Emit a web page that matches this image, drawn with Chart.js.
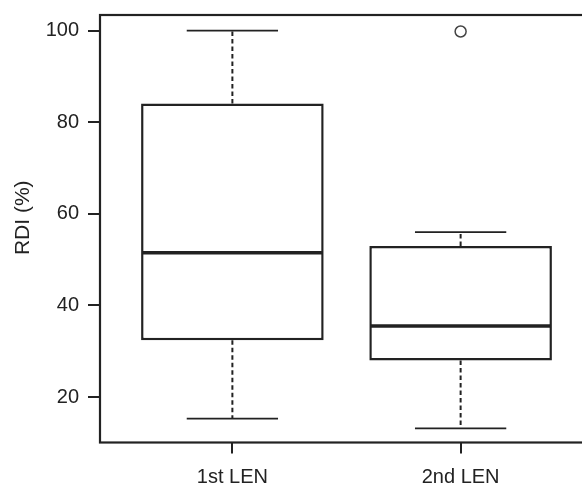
<!DOCTYPE html>
<html>
<head>
<meta charset="utf-8">
<script src="https://cdn.jsdelivr.net/npm/chart.js@4.4.1/dist/chart.umd.min.js"></script>
<style>
  html, body { margin: 0; padding: 0; background: #fff; overflow: hidden; width: 582px; height: 486px; }
  canvas { display: block; }
</style>
</head>
<body>
<canvas id="c" width="600" height="486" style="width:600px;height:486px"></canvas>
<script>
// ---- data ----
const categories   = ['1st LEN', '2nd LEN'];
const whiskerLow   = [15.3, 13.2];
const quartile1    = [32.4, 28.0];
const medians      = [51.5, 35.5];
const quartile3    = [84.1, 53.0];
const whiskerHigh  = [100.0, 56.0];
const outliers     = [[], [99.8]];
const yTicks       = [20, 40, 60, 80, 100];
const yTitle       = 'RDI (%)';

const INK = '#222222';
const FONT = 'Liberation Sans, Arial, Helvetica, sans-serif';

const boxData = categories.map((c, i) => ({ x: i + 1, y: [quartile1[i], quartile3[i]] }));
const outlierData = [];
outliers.forEach((arr, i) => arr.forEach(v => outlierData.push({ x: i + 1, y: v })));

const boxExtras = {
  id: 'boxExtras',
  beforeDatasetsDraw(chart) {
    const ctx = chart.ctx, xs = chart.scales.x, ys = chart.scales.y;
    const meta = chart.getDatasetMeta(0);
    ctx.save();
    ctx.strokeStyle = INK;
    categories.forEach((c, i) => {
      const el = meta.data[i];
      const cx = xs.getPixelForValue(i + 1);
      const capHalf = el.width * 0.25;
      ctx.lineWidth = 2;
      ctx.setLineDash([4.5, 3]);
      ctx.beginPath();
      ctx.moveTo(cx, ys.getPixelForValue(quartile3[i]));
      ctx.lineTo(cx, ys.getPixelForValue(whiskerHigh[i]));
      ctx.moveTo(cx, ys.getPixelForValue(quartile1[i]));
      ctx.lineTo(cx, ys.getPixelForValue(whiskerLow[i]));
      ctx.stroke();
      ctx.setLineDash([]);
      ctx.lineWidth = 1.8;
      ctx.beginPath();
      [whiskerHigh[i], whiskerLow[i]].forEach(v => {
        const py = ys.getPixelForValue(v);
        ctx.moveTo(cx - capHalf, py);
        ctx.lineTo(cx + capHalf, py);
      });
      ctx.stroke();
    });
    ctx.restore();
  },
  afterDatasetsDraw(chart) {
    const ctx = chart.ctx, ys = chart.scales.y;
    const meta = chart.getDatasetMeta(0);
    ctx.save();
    ctx.strokeStyle = INK;
    ctx.lineWidth = 3.5;
    categories.forEach((c, i) => {
      const el = meta.data[i];
      const py = ys.getPixelForValue(medians[i]);
      ctx.beginPath();
      ctx.moveTo(el.x - el.width / 2 + 1, py);
      ctx.lineTo(el.x + el.width / 2 - 1, py);
      ctx.stroke();
    });
    const a = chart.chartArea;
    ctx.lineWidth = 2.2;
    ctx.strokeRect(a.left, a.top, a.right - a.left, a.bottom - a.top);
    ctx.fillStyle = INK;
    ctx.font = '21px ' + FONT;
    ctx.textAlign = 'center';
    ctx.textBaseline = 'middle';
    ctx.translate(23, (a.top + a.bottom) / 2 - 11);
    ctx.rotate(-Math.PI / 2);
    ctx.fillText(yTitle, 0, 0);
    ctx.restore();
  }
};

new Chart(document.getElementById('c'), {
  data: {
    datasets: [
      {
        type: 'bar',
        data: boxData,
        backgroundColor: '#ffffff',
        borderColor: INK,
        borderWidth: 2.5,
        borderSkipped: false,
        barPercentage: 0.8,
        categoryPercentage: 1.0,
        order: 2
      },
      {
        type: 'scatter',
        data: outlierData,
        pointStyle: 'circle',
        pointRadius: 5.5,
        pointBorderWidth: 1.5,
        pointBorderColor: '#444',
        pointBackgroundColor: 'rgba(0,0,0,0)',
        order: 1
      }
    ]
  },
  options: {
    responsive: false,
    animation: false,
    devicePixelRatio: 1,
    layout: { padding: { top: 15, right: 7, left: 0, bottom: 0 } },
    plugins: { legend: { display: false }, tooltip: { enabled: false } },
    scales: {
      x: {
        type: 'linear',
        offset: false,
        min: 0.42,
        max: 2.58,
        afterBuildTicks: s => { s.ticks = categories.map((c, i) => ({ value: i + 1 })); },
        afterFit: s => { s.height = 43.5; s.paddingLeft = 0; s.paddingRight = 0; },
        grid: { display: true, offset: false, drawOnChartArea: false, drawTicks: true, tickLength: 11, color: INK, lineWidth: 2 },
        border: { display: false },
        ticks: {
          padding: 12,
          color: INK,
          font: { family: FONT, size: 20 },
          maxRotation: 0,
          callback: v => categories[v - 1]
        }
      },
      y: {
        type: 'linear',
        min: 10.1,
        max: 103.4,
        afterBuildTicks: s => { s.ticks = yTicks.map(v => ({ value: v })); },
        afterFit: s => { s.width = 100; s.paddingTop = 0; s.paddingBottom = 0; },
        grid: { display: true, drawOnChartArea: false, drawTicks: true, tickLength: 12, color: INK, lineWidth: 2 },
        border: { display: false },
        ticks: {
          padding: 9,
          color: INK,
          font: { family: FONT, size: 20 },
          callback: v => String(v)
        }
      }
    }
  },
  plugins: [boxExtras]
});
</script>
</body>
</html>
